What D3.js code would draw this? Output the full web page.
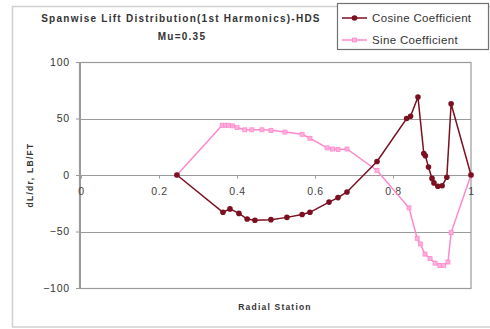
<!DOCTYPE html>
<html><head><meta charset="utf-8">
<script src="https://cdn.jsdelivr.net/npm/d3@7"></script>
<style>body{margin:0;background:#fff}svg{display:block;font-family:"Liberation Sans",Arial,sans-serif}</style>
</head><body><svg id="c" width="490" height="329"></svg>
<script>
const cosX = [0.246,0.364,0.382,0.405,0.426,0.446,0.487,0.528,0.567,0.587,0.636,0.659,0.682,0.759,0.835,0.845,0.864,0.879,0.883,0.891,0.900,0.905,0.915,0.926,0.938,0.949,1.0];
const cosY = [0,-33,-30,-34,-39,-40,-39.5,-37.5,-35,-33,-24,-20,-15,12,50,52,69,19,17,7,-3,-7,-10,-9.5,-2,63,0];
const sinX = [0.246,0.362,0.370,0.378,0.388,0.400,0.420,0.438,0.464,0.487,0.523,0.567,0.587,0.631,0.645,0.659,0.682,0.759,0.841,0.862,0.870,0.882,0.895,0.908,0.920,0.930,0.941,0.949,1.0];
const sinY = [0,44,44,44,43.5,42,40,40,40,39.5,38,36,32.5,24,23,22.5,23,4,-29,-56,-61,-70,-74,-78,-80,-80,-77,-51,0];
const xTicks = [0,0.2,0.4,0.6,0.8,1];
const yTicks = [-100,-50,0,50,100];
const seriesNames = ["Cosine Coefficient","Sine Coefficient"];
const colors = ["#7a1020","#ff88cc"];

const svg = d3.select("#c");
const L=81,R=471,T=62,B=288;
const x = d3.scaleLinear().domain([0,1]).range([L,R]);
const y = d3.scaleLinear().domain([-100,100]).range([B,T]);

// outer chart border
svg.append("rect").attr("x",12.5).attr("y",6.5).attr("width",490).attr("height",320.5)
  .attr("fill","none").attr("stroke","#d0d0d0").attr("stroke-width",1.5);

// gridlines
svg.append("g").selectAll("line").data(yTicks).join("line")
  .attr("x1",L).attr("x2",R).attr("y1",d=>Math.round(y(d))+0.5).attr("y2",d=>Math.round(y(d))+0.5)
  .attr("stroke","#9a9a9a").attr("stroke-width",1);
// plot border
svg.append("rect").attr("x",L-1.5).attr("y",T+0.5).attr("width",R-L+1.5).attr("height",B-T)
  .attr("fill","none").attr("stroke","#9a9a9a").attr("stroke-width",1.2);

// y axis
const ya = d3.axisLeft(y).tickValues(yTicks).tickSize(4).tickFormat(d3.format("d"));
const gy = svg.append("g").attr("transform",`translate(${L-1},0)`).call(ya);
gy.select(".domain").attr("stroke","#9a9a9a");
gy.selectAll(".tick line").attr("stroke","#9a9a9a");
gy.selectAll("text").attr("font-size",10.5).attr("letter-spacing",0.8).attr("fill","#333").attr("x",-10);

// x axis on zero line
const xa = d3.axisBottom(x).tickValues(xTicks).tickSize(3).tickFormat(d=>d===0||d===1?String(d):d3.format(".1f")(d));
const gx = svg.append("g").attr("transform",`translate(0,${Math.round(y(0))+0.5})`).call(xa);
gx.select(".domain").remove();
gx.selectAll(".tick line").attr("stroke","#9a9a9a");
gx.selectAll("text").attr("font-size",10.5).attr("letter-spacing",0.6).attr("fill","#444").attr("y",12);

// lines
const cosData = cosX.map((v,i)=>[v,cosY[i]]);
const sinData = sinX.map((v,i)=>[v,sinY[i]]);
const line = d3.line().x(d=>x(d[0])).y(d=>y(d[1]));
svg.append("path").datum(sinData).attr("d",line).attr("fill","none").attr("stroke",colors[1]).attr("stroke-width",1.5);
svg.append("g").selectAll("rect").data(sinData).join("rect")
  .attr("x",d=>x(d[0])-2).attr("y",d=>y(d[1])-2).attr("width",4).attr("height",4)
  .attr("fill","#ffb0dd").attr("stroke",colors[1]).attr("stroke-width",0.8);
svg.append("path").datum(cosData).attr("d",line).attr("fill","none").attr("stroke",colors[0]).attr("stroke-width",1.5);
svg.append("g").selectAll("circle").data(cosData).join("circle")
  .attr("cx",d=>x(d[0])).attr("cy",d=>y(d[1])).attr("r",2.8).attr("fill",colors[0]);

// titles
svg.append("text").attr("x",181).attr("y",22).attr("text-anchor","middle").attr("font-size",10).attr("letter-spacing",1.25).attr("font-weight","bold").attr("fill","#333")
  .text("Spanwise Lift Distribution(1st Harmonics)-HDS");
svg.append("text").attr("x",182).attr("y",40).attr("text-anchor","middle").attr("font-size",10).attr("letter-spacing",1.25).attr("font-weight","bold").attr("fill","#333")
  .text("Mu=0.35");
svg.append("text").attr("x",275).attr("y",310).attr("text-anchor","middle").attr("font-size",8.5).attr("letter-spacing",1.2).attr("font-weight","bold").attr("fill","#333")
  .text("Radial Station");
svg.append("text").attr("transform","translate(33,175) rotate(-90)").attr("text-anchor","middle").attr("font-size",8.5).attr("letter-spacing",1.3).attr("font-weight","bold").attr("fill","#333")
  .text("dL/dr, LB/FT");

// legend
const lg = svg.append("g");
lg.append("rect").attr("x",337.5).attr("y",3.5).attr("width",151).attr("height",46).attr("fill","#fff").attr("stroke","#707070").attr("stroke-width",1.2);
seriesNames.forEach((n,i)=>{
  const yy = 18 + i*22;
  lg.append("line").attr("x1",342).attr("x2",367).attr("y1",yy).attr("y2",yy).attr("stroke",colors[i]).attr("stroke-width",1.5);
  if(i===0) lg.append("circle").attr("cx",354.5).attr("cy",yy).attr("r",2.8).attr("fill",colors[0]);
  else lg.append("rect").attr("x",352.5).attr("y",yy-2).attr("width",4).attr("height",4).attr("fill","#ffb0dd").attr("stroke",colors[1]).attr("stroke-width",0.8);
  lg.append("text").attr("x",372).attr("y",yy+4).attr("font-size",11.5).attr("letter-spacing",0.35).attr("fill","#333").text(n);
});
</script></body></html>
